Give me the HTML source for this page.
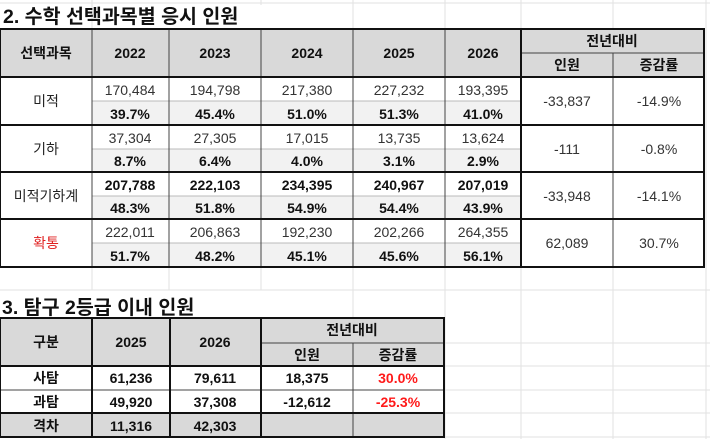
<!DOCTYPE html>
<html><head><meta charset="utf-8"><style>
html,body{margin:0;padding:0;background:#fff;}
svg{display:block;font-family:"Liberation Sans","Noto Sans CJK KR",sans-serif;}
.n{font-size:14px;fill:#333;text-anchor:middle;}
.b{font-size:14px;font-weight:bold;fill:#111;text-anchor:middle;}
.h{font-size:14px;font-weight:bold;fill:#111;text-anchor:middle;}
</style></head><body>
<svg width="710" height="439" viewBox="0 0 710 439">
<g stroke="#e2e2e2" stroke-width="1">
<line x1="0" y1="3" x2="710" y2="3"/>
<line x1="92" y1="0" x2="92" y2="29"/><line x1="261" y1="0" x2="261" y2="5"/><line x1="353" y1="0" x2="353" y2="29"/><line x1="445" y1="0" x2="445" y2="29"/><line x1="521" y1="0" x2="521" y2="29"/><line x1="613" y1="0" x2="613" y2="29"/><line x1="706" y1="0" x2="706" y2="439"/>
<line x1="0" y1="290" x2="710" y2="290"/>
<line x1="92" y1="267" x2="92" y2="290"/><line x1="169" y1="267" x2="169" y2="290"/><line x1="261" y1="267" x2="261" y2="290"/><line x1="353" y1="267" x2="353" y2="318"/><line x1="445" y1="267" x2="445" y2="439"/><line x1="521" y1="267" x2="521" y2="439"/><line x1="613" y1="267" x2="613" y2="439"/>
<line x1="445" y1="343" x2="710" y2="343"/><line x1="445" y1="366" x2="710" y2="366"/><line x1="445" y1="390" x2="710" y2="390"/><line x1="445" y1="413" x2="710" y2="413"/><line x1="445" y1="437" x2="710" y2="437"/>
</g>
<text x="3" y="23" style="font-size:19.5px;font-weight:bold;fill:#111">2. 수학 선택과목별 응시 인원</text>
<rect x="0" y="29" width="704" height="48" fill="#d9d9d9"/>
<g fill="#f2f2f2">
<rect x="92" y="101" width="429" height="24"/><rect x="92" y="149" width="429" height="23"/><rect x="92" y="196" width="429" height="23"/><rect x="92" y="243" width="429" height="24"/>
</g>
<g stroke="#bbb" stroke-width="1">
<line x1="92" y1="101" x2="521" y2="101"/><line x1="92" y1="149" x2="521" y2="149"/><line x1="92" y1="196" x2="521" y2="196"/><line x1="92" y1="243" x2="521" y2="243"/>
</g>
<g stroke="#444" stroke-width="1">
<line x1="92" y1="29" x2="92" y2="267"/><line x1="169" y1="29" x2="169" y2="267"/><line x1="261" y1="29" x2="261" y2="267"/><line x1="353" y1="29" x2="353" y2="267"/><line x1="445" y1="29" x2="445" y2="267"/>
<line x1="613" y1="53" x2="613" y2="267"/><line x1="521" y1="53" x2="704" y2="53"/>
</g>
<g stroke="#111" stroke-width="2" fill="none">
<rect x="0" y="29" width="704" height="238"/>
<line x1="0" y1="77" x2="704" y2="77"/><line x1="0" y1="125" x2="704" y2="125"/><line x1="0" y1="172" x2="704" y2="172"/><line x1="0" y1="219" x2="704" y2="219"/>
<line x1="521" y1="29" x2="521" y2="267"/>
</g>
<text x="46" y="58" class="h">선택과목</text><text x="130" y="58" class="h">2022</text><text x="215" y="58" class="h">2023</text><text x="307" y="58" class="h">2024</text><text x="399" y="58" class="h">2025</text><text x="483" y="58" class="h">2026</text>
<text x="612" y="46" class="h">전년대비</text><text x="567" y="70" class="h">인원</text><text x="659" y="70" class="h">증감률</text>
<text x="46" y="106" class="n" style="fill:#222">미적</text>
<text x="46" y="154" class="n" style="fill:#222">기하</text>
<text x="46" y="201" class="n" style="fill:#222">미적기하계</text>
<text x="46" y="248" class="n" style="fill:#e02020">확통</text>
<text x="130" y="95" class="n">170,484</text><text x="215" y="95" class="n">194,798</text><text x="307" y="95" class="n">217,380</text><text x="399" y="95" class="n">227,232</text><text x="483" y="95" class="n">193,395</text>
<text x="130" y="143" class="n">37,304</text><text x="215" y="143" class="n">27,305</text><text x="307" y="143" class="n">17,015</text><text x="399" y="143" class="n">13,735</text><text x="483" y="143" class="n">13,624</text>
<text x="130" y="237" class="n">222,011</text><text x="215" y="237" class="n">206,863</text><text x="307" y="237" class="n">192,230</text><text x="399" y="237" class="n">202,266</text><text x="483" y="237" class="n">264,355</text>
<text x="567" y="106" class="n">-33,837</text><text x="659" y="106" class="n">-14.9%</text>
<text x="567" y="154" class="n">-111</text><text x="659" y="154" class="n">-0.8%</text>
<text x="567" y="201" class="n">-33,948</text><text x="659" y="201" class="n">-14.1%</text>
<text x="567" y="248" class="n">62,089</text><text x="659" y="248" class="n">30.7%</text>
<text x="130" y="119" class="b">39.7%</text><text x="215" y="119" class="b">45.4%</text><text x="307" y="119" class="b">51.0%</text><text x="399" y="119" class="b">51.3%</text><text x="483" y="119" class="b">41.0%</text>
<text x="130" y="166" class="b">8.7%</text><text x="215" y="166" class="b">6.4%</text><text x="307" y="166" class="b">4.0%</text><text x="399" y="166" class="b">3.1%</text><text x="483" y="166" class="b">2.9%</text>
<text x="130" y="190" class="b">207,788</text><text x="215" y="190" class="b">222,103</text><text x="307" y="190" class="b">234,395</text><text x="399" y="190" class="b">240,967</text><text x="483" y="190" class="b">207,019</text>
<text x="130" y="213" class="b">48.3%</text><text x="215" y="213" class="b">51.8%</text><text x="307" y="213" class="b">54.9%</text><text x="399" y="213" class="b">54.4%</text><text x="483" y="213" class="b">43.9%</text>
<text x="130" y="261" class="b">51.7%</text><text x="215" y="261" class="b">48.2%</text><text x="307" y="261" class="b">45.1%</text><text x="399" y="261" class="b">45.6%</text><text x="483" y="261" class="b">56.1%</text>
<text x="2" y="314" style="font-size:19.5px;font-weight:bold;fill:#111">3. 탐구 2등급 이내 인원</text>
<rect x="0" y="318" width="444" height="48" fill="#d9d9d9"/>
<rect x="0" y="413" width="444" height="24" fill="#d9d9d9"/>
<g stroke="#444" stroke-width="1">
<line x1="261" y1="343" x2="444" y2="343"/><line x1="353" y1="343" x2="353" y2="437"/>
<line x1="0" y1="390" x2="444" y2="390"/>
</g>
<g stroke="#111" stroke-width="2" fill="none">
<rect x="0" y="318" width="444" height="119"/>
<line x1="0" y1="366" x2="444" y2="366"/><line x1="0" y1="413" x2="444" y2="413"/>
<line x1="92" y1="318" x2="92" y2="437"/><line x1="170" y1="318" x2="170" y2="437"/><line x1="261" y1="318" x2="261" y2="437"/>
</g>
<text x="46" y="347" class="h">구분</text><text x="131" y="347" class="h">2025</text><text x="215" y="347" class="h">2026</text>
<text x="352" y="335" class="h">전년대비</text><text x="307" y="360" class="h">인원</text><text x="398" y="360" class="h">증감률</text>
<text x="46" y="383" class="b">사탐</text><text x="131" y="383" class="b">61,236</text><text x="215" y="383" class="b">79,611</text><text x="307" y="383" class="b">18,375</text><text x="398" y="383" class="b" style="fill:#ff1a1a">30.0%</text>
<text x="46" y="407" class="b">과탐</text><text x="131" y="407" class="b">49,920</text><text x="215" y="407" class="b">37,308</text><text x="307" y="407" class="b">-12,612</text><text x="398" y="407" class="b" style="fill:#ff1a1a">-25.3%</text>
<text x="46" y="431" class="b">격차</text><text x="131" y="431" class="b">11,316</text><text x="215" y="431" class="b">42,303</text>
</svg>
</body></html>
